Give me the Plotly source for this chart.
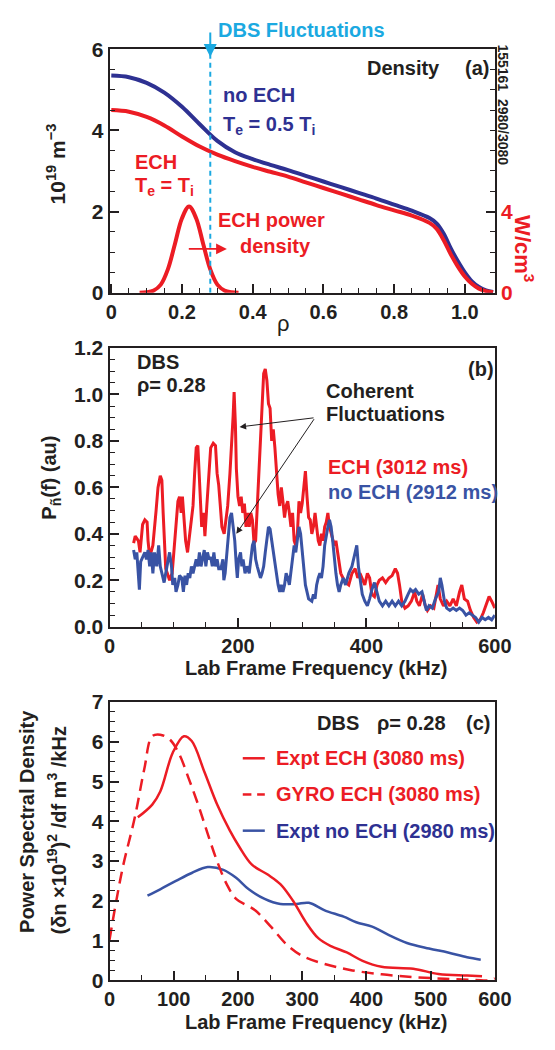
import plotly.graph_objects as go

# ---------------- data ----------------
# Panel (a): density profiles (10^19 m^-3) vs rho
rho = [0.0, 0.05, 0.10, 0.15, 0.20, 0.25, 0.30, 0.35, 0.40, 0.45, 0.50, 0.55, 0.60, 0.65, 0.70, 0.75,
       0.80, 0.85, 0.90, 0.92, 0.94, 0.96, 0.98, 1.0, 1.02, 1.04, 1.06, 1.08]
ne_noech = [5.35, 5.31, 5.17, 4.93, 4.58, 4.15, 3.74, 3.46, 3.29, 3.15, 3.02, 2.88, 2.74, 2.60, 2.46, 2.32,
            2.17, 2.02, 1.84, 1.71, 1.46, 1.10, 0.78, 0.50, 0.28, 0.14, 0.06, 0.02]
ne_ech = [4.50, 4.46, 4.33, 4.12, 3.85, 3.60, 3.40, 3.24, 3.10, 2.98, 2.86, 2.72, 2.58, 2.44, 2.30, 2.16,
          2.03, 1.90, 1.72, 1.58, 1.30, 0.95, 0.65, 0.40, 0.22, 0.10, 0.04, 0.01]
# ECH power density (W/cm^3)
rho_pw = [0.08, 0.10, 0.12, 0.14, 0.16, 0.18, 0.20, 0.22, 0.24, 0.26, 0.28, 0.30, 0.32, 0.34, 0.36]
p_ech = [0.0, 0.02, 0.11, 0.40, 1.15, 2.40, 3.67, 4.25, 3.67, 2.40, 1.15, 0.40, 0.11, 0.02, 0.0]
rho_dbs = 0.28

# Panel (b): DBS spectra
f_ech = [37.5, 40, 45, 47.5, 51.5, 55, 58.5, 60, 62.5, 67.5, 72.5, 75.5, 79, 81.5, 83.5, 86, 87.5, 90, 93.5,
         97.5, 100, 103.5, 106.5, 109, 111.5, 113.5, 116.5, 118.5, 121.5, 123.5, 126.5, 130, 132.5, 135,
         137.5, 139.5, 141.5, 143.5, 146.5, 148.5, 151.5, 155, 157.5, 161.5, 165, 167.5, 170, 172.5, 175,
         178.5, 181.5, 184, 187.5, 190, 192.5, 194, 196, 197.5, 200, 202.5, 205, 207.5, 210, 212.5, 215,
         217.5, 220, 222.5, 225, 227.5, 230, 232.5, 235, 237.5, 240, 242.5, 245, 247.5, 250, 252.5, 255,
         257.5, 260, 262.5, 265, 267.5, 270, 272.5, 275, 277.5, 280, 282.5, 285, 287.5, 290, 292.5, 295,
         297.5, 300, 302.5, 305, 307.5, 310, 312.5, 315, 317.5, 320, 322.5, 325, 327.5, 330, 332.5, 335,
         337.5, 340, 342.5, 345, 347.5, 350, 352.5, 355, 357.5, 360, 363.5, 367.5, 372.5, 377.5, 382.5,
         386.5, 390, 393.5, 397.5, 401.5, 405, 408.5, 412.5, 416.5, 420, 425, 430, 435, 440, 445, 448.5,
         451.5, 455, 460, 465, 470, 475, 478.5, 482.5, 487.5, 491.5, 495, 500, 505, 508.5, 511.5, 515,
         520, 525, 530, 535, 540, 545, 548.5, 552.5, 557.5, 562, 567, 572, 577, 582, 587, 591, 595, 600]
p_ech_spec = [0.36, 0.39, 0.37, 0.32, 0.44, 0.46, 0.45, 0.37, 0.30, 0.35, 0.50, 0.60, 0.65, 0.63, 0.49, 0.35,
              0.25, 0.23, 0.20, 0.23, 0.32, 0.43, 0.54, 0.56, 0.49, 0.56, 0.43, 0.37, 0.32, 0.37, 0.44, 0.52,
              0.66, 0.77, 0.78, 0.66, 0.52, 0.43, 0.49, 0.39, 0.52, 0.66, 0.77, 0.79, 0.78, 0.66, 0.61, 0.52,
              0.43, 0.40, 0.46, 0.52, 0.66, 0.77, 0.91, 1.01, 0.87, 0.68, 0.56, 0.52, 0.56, 0.49, 0.53, 0.43,
              0.49, 0.43, 0.49, 0.46, 0.36, 0.37, 0.52, 0.68, 0.85, 1.00, 1.09, 1.11, 1.06, 0.96, 0.94, 0.80,
              0.85, 0.77, 0.66, 0.57, 0.52, 0.60, 0.54, 0.47, 0.52, 0.54, 0.49, 0.43, 0.49, 0.37, 0.35, 0.40,
              0.54, 0.49, 0.53, 0.60, 0.67, 0.56, 0.47, 0.46, 0.40, 0.43, 0.49, 0.43, 0.37, 0.35, 0.40, 0.37,
              0.43, 0.45, 0.49, 0.43, 0.40, 0.37, 0.35, 0.37, 0.32, 0.26, 0.23, 0.21, 0.19, 0.18, 0.23, 0.25,
              0.21, 0.23, 0.21, 0.18, 0.23, 0.21, 0.14, 0.13, 0.18, 0.20, 0.21, 0.19, 0.21, 0.22, 0.25, 0.23,
              0.18, 0.11, 0.08, 0.09, 0.11, 0.15, 0.11, 0.09, 0.14, 0.09, 0.07, 0.09, 0.08, 0.14, 0.18, 0.12,
              0.09, 0.11, 0.09, 0.12, 0.09, 0.15, 0.18, 0.12, 0.11, 0.07, 0.04, 0.02, 0.03, 0.06, 0.10, 0.13,
              0.11, 0.08]
f_noech = [37.5, 40, 42.5, 45, 46.5, 48.5, 51.5, 55, 57.5, 60, 62.5, 65, 67.5, 70, 73.5, 76.5, 79, 82.5, 85,
           87.5, 91, 93.5, 96.5, 98.5, 101.5, 103.5, 106.5, 109, 112.5, 115, 117.5, 120, 122.5, 125, 127.5,
           130, 132.5, 135, 137.5, 140, 142.5, 145, 147.5, 150, 152.5, 155, 157.5, 160, 162.5, 165, 167.5,
           170, 173.5, 176.5, 178, 180, 182.5, 185, 187.5, 190, 192.5, 195, 197.5, 199, 201, 204, 206, 208,
           211, 214, 217.5, 220, 222.5, 225, 227.5, 230, 232.5, 235, 237.5, 240, 242.5, 245, 247.5, 250,
           252.5, 255, 257.5, 260, 262.5, 265, 267.5, 270, 272.5, 275, 277.5, 280, 282.5, 285, 287.5, 290,
           292.5, 295, 297.5, 300, 302.5, 305, 307.5, 310, 315, 317.5, 320, 322.5, 325, 327.5, 330, 332.5,
           335, 337.5, 340, 342.5, 345, 347.5, 350, 352.5, 355, 357.5, 360, 364, 367.5, 372.5, 377.5, 382.5,
           385, 387.5, 390, 393.5, 397.5, 401.5, 405, 408.5, 412.5, 416.5, 420, 425, 430, 435, 440, 445,
           450, 455, 460, 465, 468.5, 472.5, 476.5, 481.5, 486.5, 490, 493.5, 497.5, 502.5, 507.5, 512.5,
           515, 517.5, 521.5, 525, 530, 535, 540, 545, 550, 555, 560, 565, 570, 575, 580, 585, 590, 595, 600]
p_noech_spec = [0.33, 0.29, 0.32, 0.21, 0.16, 0.28, 0.30, 0.32, 0.29, 0.33, 0.26, 0.32, 0.23, 0.32, 0.26,
                0.35, 0.26, 0.21, 0.19, 0.23, 0.29, 0.32, 0.26, 0.18, 0.21, 0.15, 0.18, 0.22, 0.21, 0.15,
                0.22, 0.18, 0.23, 0.21, 0.26, 0.23, 0.26, 0.29, 0.26, 0.32, 0.26, 0.29, 0.33, 0.26, 0.32,
                0.29, 0.30, 0.26, 0.32, 0.26, 0.29, 0.25, 0.25, 0.29, 0.20, 0.23, 0.32, 0.40, 0.47, 0.49,
                0.43, 0.37, 0.26, 0.21, 0.29, 0.32, 0.26, 0.29, 0.23, 0.26, 0.23, 0.29, 0.35, 0.37, 0.29,
                0.26, 0.23, 0.21, 0.23, 0.26, 0.32, 0.37, 0.43, 0.42, 0.37, 0.32, 0.26, 0.21, 0.18, 0.15,
                0.18, 0.15, 0.18, 0.23, 0.21, 0.18, 0.23, 0.29, 0.35, 0.32, 0.37, 0.43, 0.40, 0.32, 0.23,
                0.18, 0.15, 0.12, 0.11, 0.14, 0.12, 0.18, 0.21, 0.23, 0.21, 0.26, 0.35, 0.40, 0.43, 0.46,
                0.43, 0.37, 0.29, 0.23, 0.18, 0.15, 0.18, 0.21, 0.18, 0.23, 0.26, 0.32, 0.35, 0.26, 0.21,
                0.14, 0.11, 0.09, 0.12, 0.16, 0.19, 0.15, 0.11, 0.09, 0.11, 0.09, 0.11, 0.09, 0.11, 0.09,
                0.11, 0.14, 0.16, 0.15, 0.16, 0.14, 0.15, 0.11, 0.07, 0.09, 0.08, 0.12, 0.15, 0.21, 0.18,
                0.11, 0.08, 0.07, 0.08, 0.07, 0.08, 0.07, 0.05, 0.06, 0.05, 0.04, 0.02, 0.04, 0.03, 0.04,
                0.03, 0.05]

# Panel (c): power spectral density
f_expt_ech = [44, 66.5, 79, 98.6, 115.8, 128, 147.8, 167.6, 187.2, 202, 221.7, 246.3, 266, 285.7, 305.4,
              325, 344.8, 369.4, 394, 423.6, 472.9, 512.3, 556.7, 580]
psd_expt_ech = [4.10, 4.42, 4.75, 5.73, 6.14, 6.02, 5.24, 4.42, 3.77, 3.36, 2.91, 2.66, 2.42, 2.00, 1.47,
                1.06, 0.86, 0.70, 0.49, 0.34, 0.29, 0.16, 0.12, 0.10]
f_gyro = [0, 19.8, 39.4, 54.2, 66.4, 78.9, 93.7, 108.5, 123.2, 138, 152.8, 167.6, 182.4, 197.1, 226.7,
          251.2, 275.9, 300.6, 335, 374.5, 423.7, 473, 522, 570, 590, 600]
psd_gyro = [1.02, 2.78, 4.10, 5.32, 6.14, 6.18, 6.06, 5.69, 5.08, 4.42, 3.69, 2.99, 2.42, 2.05, 1.76,
            1.35, 0.90, 0.61, 0.41, 0.26, 0.15, 0.08, 0.04, 0.01, 0.0, 0.05]
f_expt_noech = [59.1, 78.9, 103.4, 128, 152.8, 177.3, 197.1, 216.8, 241.5, 266, 290.7, 310.3, 335, 364.5,
                384.2, 408.9, 433.6, 463.1, 497.5, 527, 556.7, 578]
psd_expt_noech = [2.13, 2.29, 2.50, 2.70, 2.85, 2.78, 2.58, 2.29, 2.05, 1.92, 1.92, 1.95, 1.76, 1.60, 1.46,
                  1.35, 1.15, 0.94, 0.80, 0.70, 0.58, 0.52]

# tick labels
a_xticks = [0, 0.2, 0.4, 0.6, 0.8, 1.0]
a_xtext = ["0", "0.2", "0.4", "0.6", "0.8", "1.0"]
b_yticks = [0, 0.2, 0.4, 0.6, 0.8, 1.0, 1.2]
b_ytext = ["0.0", "0.2", "0.4", "0.6", "0.8", "1.0", "1.2"]

# ---------------- style ----------------
W, H = 555, 1050
RED = "#EC1C24"
NAVY = "#2E3192"
BLUE = "#3953A4"
CYAN = "#1BA9E1"
INK = "#231F20"
FONT = "Liberation Sans, Arial, sans-serif"


def px(x):
    return x / W


def py(y):
    return 1 - y / H


XDOM = [px(108), px(510)]


def axis(**kw):
    d = dict(showline=True, linecolor=INK, linewidth=2, mirror=True, ticks="inside", ticklen=9,
             tickwidth=1.5, tickcolor=INK, showgrid=False, zeroline=False,
             tickfont=dict(family=FONT, size=21, color=INK, weight="bold"))
    d.update(kw)
    return d


def minor(dt, t0=0):
    return dict(ticks="inside", ticklen=5, tickwidth=1.2, tickcolor=INK, tickmode="linear",
                tick0=t0, dtick=dt, showgrid=False)


XTF = dict(family=FONT, size=20, color=INK, weight="bold")

fig = go.Figure()

# (a)
fig.add_trace(go.Scatter(x=rho, y=ne_noech, mode="lines", line=dict(color=NAVY, width=4, shape="spline"),
                         xaxis="x", yaxis="y", showlegend=False))
fig.add_trace(go.Scatter(x=rho, y=ne_ech, mode="lines", line=dict(color=RED, width=4, shape="spline"),
                         xaxis="x", yaxis="y", showlegend=False))
fig.add_trace(go.Scatter(x=rho_pw, y=p_ech, mode="lines", line=dict(color=RED, width=4, shape="spline"),
                         xaxis="x", yaxis="y4", showlegend=False))
# (b)
fig.add_trace(go.Scatter(x=f_ech, y=p_ech_spec, mode="lines", line=dict(color=RED, width=3),
                         xaxis="x2", yaxis="y2", showlegend=False))
fig.add_trace(go.Scatter(x=f_noech, y=p_noech_spec, mode="lines", line=dict(color=BLUE, width=3),
                         xaxis="x2", yaxis="y2", showlegend=False))
# (c)
fig.add_trace(go.Scatter(x=f_expt_noech, y=psd_expt_noech, mode="lines",
                         line=dict(color=BLUE, width=2.5, shape="spline"), xaxis="x3", yaxis="y3",
                         showlegend=False))
fig.add_trace(go.Scatter(x=f_expt_ech, y=psd_expt_ech, mode="lines",
                         line=dict(color=RED, width=2.5, shape="spline"), xaxis="x3", yaxis="y3",
                         showlegend=False))
fig.add_trace(go.Scatter(x=f_gyro, y=psd_gyro, mode="lines",
                         line=dict(color=RED, width=2.5, shape="spline", dash="12px,7px"),
                         xaxis="x3", yaxis="y3", showlegend=False))

fig.update_layout(
    width=W, height=H, autosize=False, margin=dict(l=0, r=0, t=0, b=0),
    paper_bgcolor="white", plot_bgcolor="white",
    font=dict(family=FONT, size=20, color=INK, weight="bold"),
    xaxis=axis(domain=XDOM, anchor="y", range=[-0.005, 1.085], tickmode="array", tickvals=a_xticks,
               ticktext=a_xtext, minor=minor(0.05), tickfont=XTF),
    yaxis=axis(domain=[py(287), py(38)], anchor="x", range=[0, 6], tickmode="linear", tick0=0, dtick=2,
               minor=minor(0.5)),
    yaxis4=axis(overlaying="y", side="right", anchor="x", range=[0, 12], tickmode="array", tickvals=[0, 4],
                ticktext=["0", "4"], tickfont=dict(family=FONT, size=21, color=RED, weight="bold"),
                minor=minor(1), mirror=False),
    xaxis2=axis(domain=XDOM, anchor="y2", range=[0, 600], tickmode="array", tickvals=[0, 200, 400, 600],
                minor=minor(50), tickfont=XTF),
    yaxis2=axis(domain=[py(628.5), py(343.5)], anchor="x2", range=[0, 1.2], tickmode="array",
                tickvals=b_yticks, ticktext=b_ytext, minor=minor(0.05)),
    xaxis3=axis(domain=XDOM, anchor="y3", range=[0, 600], tickmode="linear", tick0=0, dtick=100,
                minor=minor(50), tickfont=XTF),
    yaxis3=axis(domain=[py(990), py(705.5)], anchor="x3", range=[0, 7], tickmode="linear", tick0=0,
                dtick=1, minor=minor(0.25)),
)

ann = []


def txt(x, y, s, color=INK, size=20, xanchor="left", angle=0, weight="bold"):
    ann.append(dict(x=px(x), y=py(y), xref="paper", yref="paper", text=s, showarrow=False,
                    xanchor=xanchor, yanchor="middle", textangle=angle,
                    font=dict(family=FONT, size=size, color=color, weight=weight)))


# (a) texts
txt(219, 18, "DBS Fluctuations", CYAN, 20)
txt(375, 57, "Density")
txt(477, 57, "(a)")
txt(519, 95, "155161  2980/3080", INK, 14, "center", 90)
txt(224, 85, "no ECH", NAVY)
txt(224, 116, "T<sub>e</sub> = 0.5 T<sub>i</sub>", NAVY)
txt(133, 153, "ECH", RED)
txt(133, 178, "T<sub>e</sub> = T<sub>i</sub>", RED)
txt(219, 213, "ECH power", RED)
txt(242, 239, "density", RED)
txt(52, 155, "10<sup>19</sup> m<sup>−3</sup>", INK, 21, "center", -90)
txt(541, 242, "W/cm<sup>3</sup>", RED, 22, "center", 90)
txt(290, 318, "ρ", INK, 22, "center", 0, "normal")
# cyan arrow above panel (a)
ann.append(dict(x=rho_dbs, y=py(46), xref="x", yref="paper", ax=0, ay=-26, axref="pixel", ayref="pixel",
                text="", showarrow=True, arrowhead=2, arrowsize=1.3, arrowwidth=2, arrowcolor=CYAN))
# red arrow ECH power density
ann.append(dict(x=0.327, y=1.08, xref="x", yref="y", ax=0.215, ay=1.08, axref="x", ayref="y",
                text="", showarrow=True, arrowhead=2, arrowsize=1.2, arrowwidth=1.8, arrowcolor=RED))

# (b) texts
txt(135, 358, "DBS")
txt(135, 381, "ρ= 0.28")
txt(480, 365, "(b)")
txt(332, 387, "Coherent")
txt(332, 411, "Fluctuations")
txt(334, 465, "ECH (3012 ms)", RED)
txt(334, 491, "no ECH (2912 ms)", BLUE)
txt(47, 476, "P<sub>ñ</sub>(f) (au)", INK, 20, "center", -90)
txt(323, 671, "Lab Frame Frequency (kHz)", INK, 20, "center")
for hx, hy in [(202.5, 0.86), (197.5, 0.40)]:
    ann.append(dict(x=hx, y=hy, xref="x2", yref="y2", ax=320, ay=0.90, axref="x2", ayref="y2", text="",
                    showarrow=True, arrowhead=2, arrowsize=1.3, arrowwidth=1, arrowcolor=INK))

# (c) texts
txt(322, 727, "DBS")
txt(385, 727, "ρ= 0.28")
txt(478, 727, "(c)")
txt(280, 763, "Expt ECH (3080 ms)", RED)
txt(280, 800, "GYRO ECH (3080 ms)", RED)
txt(280, 837, "Expt no ECH (2980 ms)", NAVY)
txt(22, 828, "Power Spectral Density", INK, 20, "center", -90)
txt(53, 837, "(δn ×10<sup>19</sup>)<sup>2</sup> /df m<sup>3</sup> /kHz", INK, 20, "center", -90)
txt(323, 1033, "Lab Frame Frequency (kHz)", INK, 20, "center")

shapes = [
    dict(type="line", xref="x", yref="y", x0=rho_dbs, x1=rho_dbs, y0=0, y1=6,
         line=dict(color=CYAN, width=2, dash="5px,4px")),
    dict(type="line", xref="paper", yref="paper", x0=px(247), x1=px(270), y0=py(763), y1=py(763),
         line=dict(color=RED, width=2.5)),
    dict(type="line", xref="paper", yref="paper", x0=px(247), x1=px(256), y0=py(800), y1=py(800),
         line=dict(color=RED, width=2.5)),
    dict(type="line", xref="paper", yref="paper", x0=px(262), x1=px(270), y0=py(800), y1=py(800),
         line=dict(color=RED, width=2.5)),
    dict(type="line", xref="paper", yref="paper", x0=px(247), x1=px(270), y0=py(837), y1=py(837),
         line=dict(color=BLUE, width=2.5)),
]

fig.update_layout(annotations=ann, shapes=shapes)
fig.write_html(
    "out.html",
    config={"responsive": False},
    post_script="document.documentElement.style.overflow='hidden';"
                "document.body.style.margin='0';document.body.style.overflow='hidden';",
)
